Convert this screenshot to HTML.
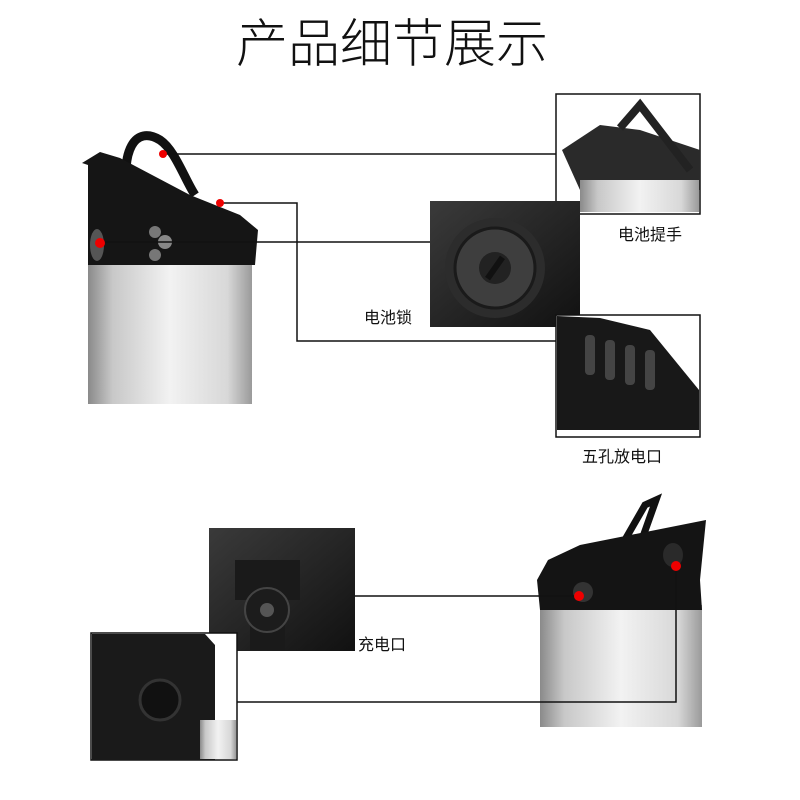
<!DOCTYPE html>
<html><head><meta charset="utf-8"><style>
body{margin:0;background:#fff;width:800px;height:800px;overflow:hidden}
svg{display:block}
text{font-family:"Liberation Sans","Noto Sans CJK SC",sans-serif}
</style></head><body>
<svg width="800" height="800" viewBox="0 0 800 800">
<defs>
<linearGradient id="g" x1="0" x2="1" y1="0" y2="0">
<stop offset="0" stop-color="#8a8a8a"/><stop offset="0.15" stop-color="#c8c8c8"/><stop offset="0.5" stop-color="#f2f2f2"/><stop offset="0.85" stop-color="#d8d8d8"/><stop offset="1" stop-color="#9a9a9a"/>
</linearGradient>
<linearGradient id="d" x1="0" x2="1" y1="0" y2="1">
<stop offset="0" stop-color="#3a3a3a"/><stop offset="1" stop-color="#111"/>
</linearGradient>
</defs>
<text x="392" y="62" font-size="52" font-weight="300" text-anchor="middle" fill="#111">产品细节展示</text>

<!-- left battery -->
<rect x="88" y="265" width="164" height="139" fill="url(#g)"/>
<path d="M128,200 C120,150 135,125 160,140 C175,150 185,180 195,195" stroke="#111" stroke-width="9" fill="none"/>
<path d="M82,163 L100,152 L120,158 L190,195 L240,215 L258,230 L255,265 L88,265 L88,165 Z" fill="#151515"/>
<circle cx="155" cy="232" r="6" fill="#777"/><circle cx="165" cy="242" r="7" fill="#888"/><circle cx="155" cy="255" r="6" fill="#777"/>
<ellipse cx="97" cy="245" rx="7" ry="16" fill="#555"/>

<!-- box 1 handle -->
<rect x="556" y="94" width="144" height="120" fill="#fff" stroke="#111" stroke-width="1.5"/>
<path d="M562,150 L600,125 L640,130 L700,150 L700,190 L580,190 Z" fill="#2a2a2a"/>
<path d="M620,128 L640,105 L690,170" stroke="#222" stroke-width="8" fill="none"/>
<rect x="580" y="180" width="119" height="32" fill="url(#g)"/>
<text x="618" y="240" font-size="16" fill="#111">电池提手</text>

<!-- box 2 lock -->
<rect x="430" y="201" width="150" height="126" fill="url(#d)"/>
<circle cx="495" cy="268" r="50" fill="#2c2c2c"/>
<circle cx="495" cy="268" r="40" fill="#3e3e3e" stroke="#1a1a1a" stroke-width="3"/>
<circle cx="495" cy="268" r="16" fill="#222"/>
<rect x="492" y="255" width="6" height="26" fill="#111" transform="rotate(35 495 268)"/>
<text x="364" y="323" font-size="16" fill="#111">电池锁</text>

<!-- box 3 -->
<rect x="556" y="315" width="144" height="122" fill="#fff" stroke="#111" stroke-width="1.5"/>
<path d="M557,316 L557,430 L699,430 L699,390 L650,330 L600,318 Z" fill="#181818"/>
<g fill="#444"><rect x="585" y="335" width="10" height="40" rx="4"/><rect x="605" y="340" width="10" height="40" rx="4"/><rect x="625" y="345" width="10" height="40" rx="4"/><rect x="645" y="350" width="10" height="40" rx="4"/></g>
<text x="582" y="462" font-size="16" fill="#111">五孔放电口</text>

<!-- box 4 charge port -->
<rect x="209" y="528" width="146" height="123" fill="url(#d)"/>
<path d="M235,560 L300,560 L300,600 L285,600 L285,650 L250,650 L250,600 L235,600 Z" fill="#1a1a1a"/>
<circle cx="267" cy="610" r="22" fill="#1c1c1c" stroke="#444" stroke-width="2"/>
<circle cx="267" cy="610" r="7" fill="#555"/>
<text x="358" y="650" font-size="16" fill="#111">充电口</text>

<!-- box 5 -->
<rect x="91" y="633" width="146" height="127" fill="#fff" stroke="#111" stroke-width="1.5"/>
<path d="M92,634 L205,634 L215,645 L215,760 L92,760 Z" fill="#1a1a1a"/>
<rect x="200" y="720" width="36" height="39" fill="url(#g)"/>
<circle cx="160" cy="700" r="20" fill="#111" stroke="#333" stroke-width="3"/>

<!-- right battery -->
<rect x="540" y="605" width="162" height="122" fill="url(#g)"/>
<path d="M622,545 L645,505 L656,500 L640,545" stroke="#111" stroke-width="7" fill="none"/>
<path d="M537,580 L548,560 L580,545 L706,520 L700,580 L702,610 L540,610 Z" fill="#141414"/>
<ellipse cx="673" cy="555" rx="10" ry="12" fill="#2a2a2a"/>
<circle cx="583" cy="592" r="10" fill="#333"/>

<!-- connectors -->
<g stroke="#111" stroke-width="1.5" fill="none">
<line x1="163" y1="154" x2="556" y2="154"/>
<polyline points="220,203 297,203 297,341 556,341"/>
<line x1="100" y1="242" x2="430" y2="242"/>
<line x1="355" y1="596" x2="578" y2="596"/>
<polyline points="676,566 676,702 237,702"/>
</g>
<g fill="#e00">
<circle cx="163" cy="154" r="4"/><circle cx="220" cy="203" r="4"/><circle cx="100" cy="243" r="5"/>
<circle cx="579" cy="596" r="5"/><circle cx="676" cy="566" r="5"/>
</g>
</svg>
</body></html>
